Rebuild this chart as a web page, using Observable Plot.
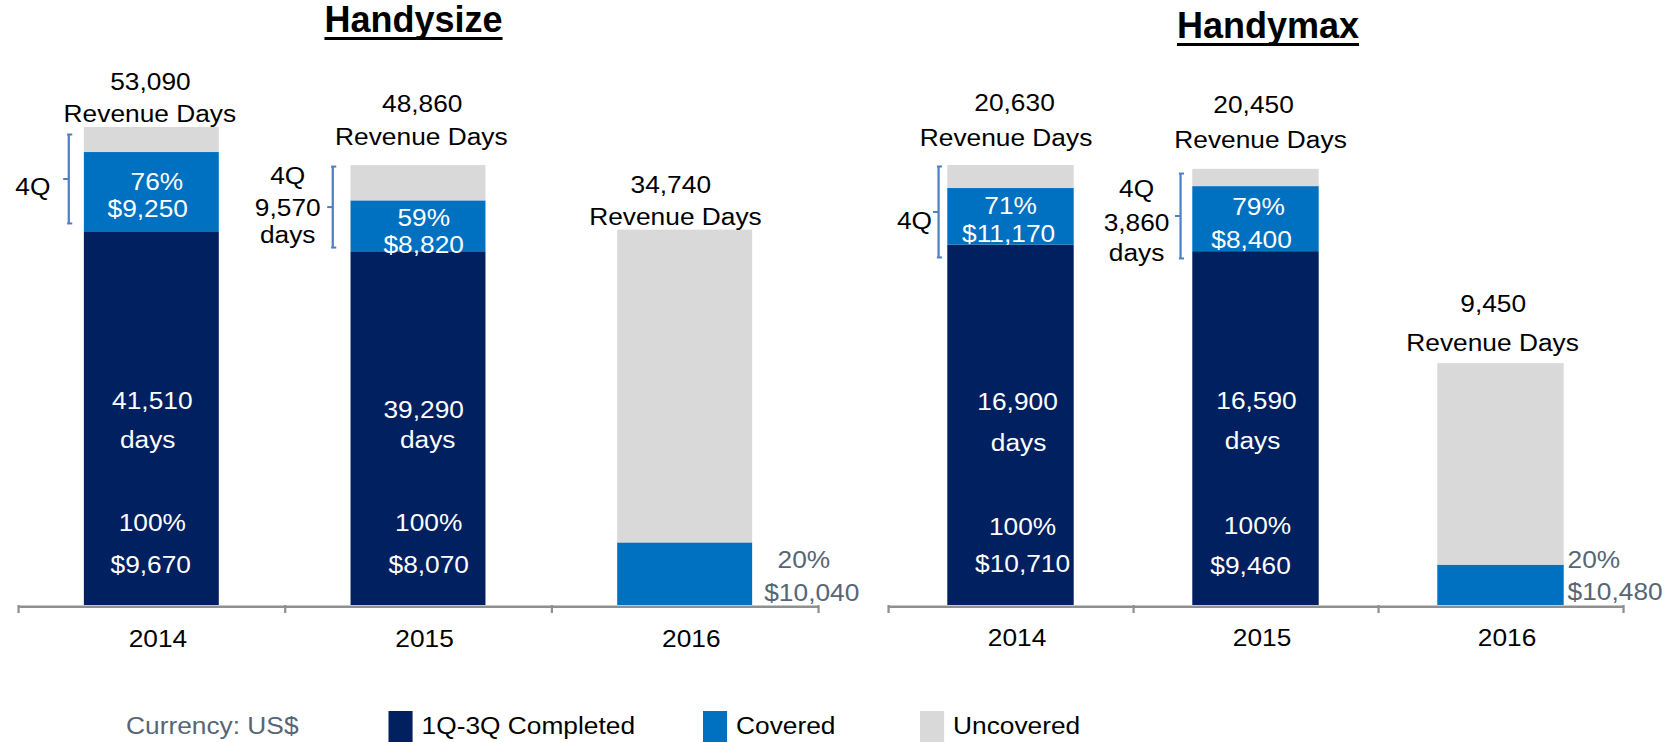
<!DOCTYPE html>
<html>
<head>
<meta charset="utf-8">
<script src="https://cdn.jsdelivr.net/npm/d3@7"></script>
<script src="https://cdn.jsdelivr.net/npm/@observablehq/plot@0.6"></script>
<style>
html, body { margin: 0; padding: 0; background: #fff; width: 1678px; height: 742px; overflow: hidden; }
#stage { position: absolute; left: 0; top: 0; width: 1498.2px; height: 742px; transform: scaleX(1.12); transform-origin: 0 0; }
.panel { position: absolute; top: 0; }
#titles { position: absolute; left: 0; top: 0; }
#legend { position: absolute; left: 0; top: 690px; }
</style>
</head>
<body>
<div id="stage">
  <div id="hs" class="panel" style="left:0;width:780px"></div>
  <div id="hm" class="panel" style="left:780px;width:718.2px"></div>
  <svg id="legend" width="1498.2" height="52"></svg>
</div>
<svg id="titles" width="1678" height="60"></svg>
<script>
// ---------------- data ----------------
const years = ["2014", "2015", "2016"];
const series = ["1Q-3Q Completed", "Covered", "Uncovered"];
const titles = ["Handysize", "Handymax"];
const currencyNote = "Currency: US$";

// Handysize (revenue days per stacked segment)
const hsCompleted = [41510, 39290, 0];
const hsCovered = [8800, 5650, 6950];
const hsUncovered = [2780, 3920, 34740];
const hsRevenueDays = [53090, 48860, 34740];
const hs4QDays = [11580, 9570, 34740];
const hsCoveredPct = [76, 59, 20];
const hsCoveredRate = [9250, 8820, 10040];
const hsCompletedPct = [100, 100, null];
const hsCompletedRate = [9670, 8070, null];

// Handymax
const hmCompleted = [16900, 16590, 0];
const hmCovered = [2650, 3050, 1890];
const hmUncovered = [1080, 810, 9450];
const hmRevenueDays = [20630, 20450, 9450];
const hm4QDays = [3730, 3860, 9450];
const hmCoveredPct = [71, 79, 20];
const hmCoveredRate = [11170, 8400, 10480];
const hmCompletedPct = [100, 100, null];
const hmCompletedRate = [10710, 9460, null];

// ---------------- style ----------------
const S = 1.12;                 // the slide image is stretched horizontally
const FONT = "Liberation Sans, Arial, sans-serif";
const FS = 23.5;
const colors = ["#002060", "#0070c0", "#d9d9d9"];
const AXIS = "#8f8f8f";
const BRACKET = "#4f7fbf";
const SLATE = "#566676";
const fmt = d3.format(",");
const money = v => "$" + fmt(v);
const pct = v => v + "%";

function lab(i, yv, str, dy, dx, o = {}) {
  return Plot.text([{x: years[i], y: yv, t: str}], {
    x: "x", y: "y", text: "t", dy, dx, lineAnchor: "bottom",
    fontFamily: FONT, fontSize: FS, fill: "#000", ...o
  });
}
const W = {fill: "#fff"};

function bracket(i, lo, hi, dxB, insetTop, insetBottom, bw) {
  const d = [{x: years[i], lo, hi, mid: (lo + hi) / 2}];
  const st = {stroke: BRACKET, strokeWidth: 2};
  const base = dxB + bw / 2;
  return [
    Plot.ruleX(d, {x: "x", y1: "hi", y2: "lo", dx: dxB, insetTop, insetBottom, ...st}),
    Plot.tickY(d, {x: "x", y: "hi", dy: insetTop, dx: base - 1, insetLeft: 0, insetRight: bw - 4.6, ...st}),
    Plot.tickY(d, {x: "x", y: "lo", dy: -insetBottom, dx: base - 1, insetLeft: 0, insetRight: bw - 4.6, ...st}),
    Plot.tickY(d, {x: "x", y: "mid", dy: (insetTop - insetBottom) / 2, dx: base - 4.5, insetLeft: 0, insetRight: bw - 4.5, ...st})
  ];
}

function makePanel(P) {
  const table = years.flatMap((yr, i) =>
    [P.completed, P.covered, P.uncovered].map((arr, j) => ({year: yr, series: series[j], days: arr[i]})));
  const top = years.map((_, i) => P.completed[i] + P.covered[i] + P.uncovered[i]);
  const step = (P.x1 - P.x0) / 3;
  const bw = step * (1 - P.pad);
  const marks = [
    Plot.barY(table, {x: "year", y: "days", fill: "series"}),
    Plot.ruleY([0], {stroke: AXIS, strokeWidth: 2.6, dy: 1.2}),
    Plot.ruleX(years, {x: d => d, y1: 0, y2: 0, insetBottom: -8, dx: -step / 2, stroke: AXIS, strokeWidth: 2}),
    Plot.ruleX(years.slice(-1), {x: d => d, y1: 0, y2: 0, insetBottom: -8, dx: step / 2, stroke: AXIS, strokeWidth: 2}),
    Plot.text(years, {x: d => d, y: 0, text: d => d, dy: 41, dx: 5.4, lineAnchor: "bottom",
      fontFamily: FONT, fontSize: FS, fill: "#000"}),
    ...P.labels(top, bw)
  ];
  return Plot.plot({
    width: P.width, height: 660,
    marginLeft: P.x0, marginRight: P.width - P.x1, marginTop: 0, marginBottom: 0,
    x: {type: "band", domain: years, paddingInner: P.pad, paddingOuter: P.pad / 2, round: false, axis: null},
    y: {domain: [0, P.ymax], range: [605, 605 - P.ymax * P.k], axis: null},
    color: {domain: series, range: colors},
    style: {overflow: "visible", background: "transparent", fontFamily: FONT},
    marks
  });
}

// ---------------- Handysize ----------------
const hs = makePanel({
  width: 780, x0: 18 / S, x1: 818 / S, pad: 0.494, k: 478 / 53090, ymax: 60000,
  completed: hsCompleted, covered: hsCovered, uncovered: hsUncovered,
  labels: (top, bw) => [
    // totals above bars
    lab(0, top[0], fmt(hsRevenueDays[0]), -38, -1.3), lab(0, top[0], "Revenue Days", -6, -1.8),
    lab(1, top[1], fmt(hsRevenueDays[1]), -54, 3.3), lab(1, top[1], "Revenue Days", -21, 2.5),
    lab(2, top[2], fmt(hsRevenueDays[2]), -37.5, -12.9), lab(2, top[2], "Revenue Days", -5.5, -8.7),
    // covered segment
    lab(0, hsCompleted[0], pct(hsCoveredPct[0]), -41.3, 4.4, W), lab(0, hsCompleted[0], money(hsCoveredRate[0]), -14.3, -3.7, W),
    lab(1, hsCompleted[1], pct(hsCoveredPct[1]), -26.2, 4.6, W), lab(1, hsCompleted[1], money(hsCoveredRate[1]), 0.8, 4.6, W),
    // completed segment
    lab(0, 0, fmt(hsCompleted[0]), -197, 0.4, W), lab(0, 0, "days", -158, -3.7, W),
    lab(0, 0, pct(hsCompletedPct[0]), -75, 0.4, W), lab(0, 0, money(hsCompletedRate[0]), -33, -1, W),
    lab(1, 0, fmt(hsCompleted[1]), -188, 4.6, W), lab(1, 0, "days", -158, 8.2, W),
    lab(1, 0, pct(hsCompletedPct[1]), -75, 9.1, W), lab(1, 0, money(hsCompletedRate[1]), -33, 9.1, W),
    // 2016 side labels
    lab(2, 0, pct(hsCoveredPct[2]), -38, 105.9, {fill: SLATE}),
    lab(2, 0, money(hsCoveredRate[2]), -5, 113, {fill: SLATE}),
    // 4Q brackets
    ...bracket(0, hsCompleted[0], top[0], -74.2, 7, 8.3, bw),
    lab(0, hsCompleted[0], "4Q", -36.3, -106.3),
    ...bracket(1, hsCompleted[1], top[1], -76.6, 1, 4.2, bw),
    lab(1, hsCompleted[1], "4Q", -68.2, -116.8),
    lab(1, hsCompleted[1], fmt(hs4QDays[1]), -36.2, -116.8),
    lab(1, hsCompleted[1], "days", -9.2, -116.8)
  ]
});
document.getElementById("hs").appendChild(hs);

// ---------------- Handymax ----------------
const hm = makePanel({
  width: 718.2, x0: 888 / S - 780, x1: 1623 / S - 780, pad: 0.484, k: 440 / 20630, ymax: 25000,
  completed: hmCompleted, covered: hmCovered, uncovered: hmUncovered,
  labels: (top, bw) => [
    lab(0, top[0], fmt(hmRevenueDays[0]), -54, 3.1), lab(0, top[0], "Revenue Days", -19, -4.5),
    lab(1, top[1], fmt(hmRevenueDays[1]), -56.8, -2.2), lab(1, top[1], "Revenue Days", -21.8, 4.0),
    lab(2, top[2], fmt(hmRevenueDays[2]), -52, -7), lab(2, top[2], "Revenue Days", -13, -7.6),
    lab(0, hmCompleted[0], pct(hmCoveredPct[0]), -30.6, -0.4, W), lab(0, hmCompleted[0], money(hmCoveredRate[0]), -2.6, -2.2, W),
    lab(1, hmCompleted[1], pct(hmCoveredPct[1]), -36.2, 2.2, W), lab(1, hmCompleted[1], money(hmCoveredRate[1]), -3.2, -4.0, W),
    lab(0, 0, fmt(hmCompleted[0]), -195, 5.8, W), lab(0, 0, "days", -154, 6.7, W),
    lab(0, 0, pct(hmCompletedPct[0]), -70, 10.3, W), lab(0, 0, money(hmCompletedRate[0]), -33, 10.3, W),
    lab(1, 0, fmt(hmCompleted[1]), -196, 0.4, W), lab(1, 0, "days", -156, -3.1, W),
    lab(1, 0, pct(hmCompletedPct[1]), -71, 1.3, W), lab(1, 0, money(hmCompletedRate[1]), -31, -4.9, W),
    lab(2, 0, pct(hmCoveredPct[2]), -37, 59.4, {fill: SLATE, textAnchor: "start"}),
    lab(2, 0, money(hmCoveredRate[2]), -5, 59.4, {fill: SLATE, textAnchor: "start"}),
    ...bracket(0, hmCompleted[0], top[0], -64.7, 1, -12.4, bw),
    lab(0, hmCompleted[0], "4Q", -15.6, -86.2),
    ...bracket(1, hmCompleted[1], top[1], -67.4, 4.2, -6.8, bw),
    lab(1, hmCompleted[1], "4Q", -54.2, -106.7),
    lab(1, hmCompleted[1], fmt(hm4QDays[1]), -20.2, -106.7),
    lab(1, hmCompleted[1], "days", 9.8, -106.7)
  ]
});
document.getElementById("hm").appendChild(hm);

// ---------------- legend (inside stretched stage) ----------------
const lg = d3.select("#legend");
lg.append("text").attr("x", 126 / S).attr("y", 44).attr("font-family", FONT).attr("font-size", FS)
  .attr("fill", SLATE).text(currencyNote);
const swX = [388.5 / S, 703 / S, 920 / S];
series.forEach((s, i) => {
  lg.append("rect").attr("x", swX[i]).attr("y", 21).attr("width", 21.5).attr("height", 40).attr("fill", colors[i]);
  lg.append("text").attr("x", swX[i] + 29.5).attr("y", 44).attr("font-family", FONT).attr("font-size", FS)
    .attr("fill", "#000").text(s);
});

// ---------------- titles (not stretched) ----------------
const tt = d3.select("#titles");
[[413.5, 32], [1268, 38]].forEach(([x, y], i) => {
  const t = tt.append("text").attr("x", x).attr("y", y).attr("text-anchor", "middle")
    .attr("font-family", FONT).attr("font-weight", "bold").attr("font-size", 36).attr("fill", "#000").text(titles[i]);
  const w = t.node().getComputedTextLength();
  tt.append("rect").attr("x", x - w / 2).attr("y", y + 5).attr("width", w).attr("height", 3).attr("fill", "#000");
});
</script>
</body>
</html>
